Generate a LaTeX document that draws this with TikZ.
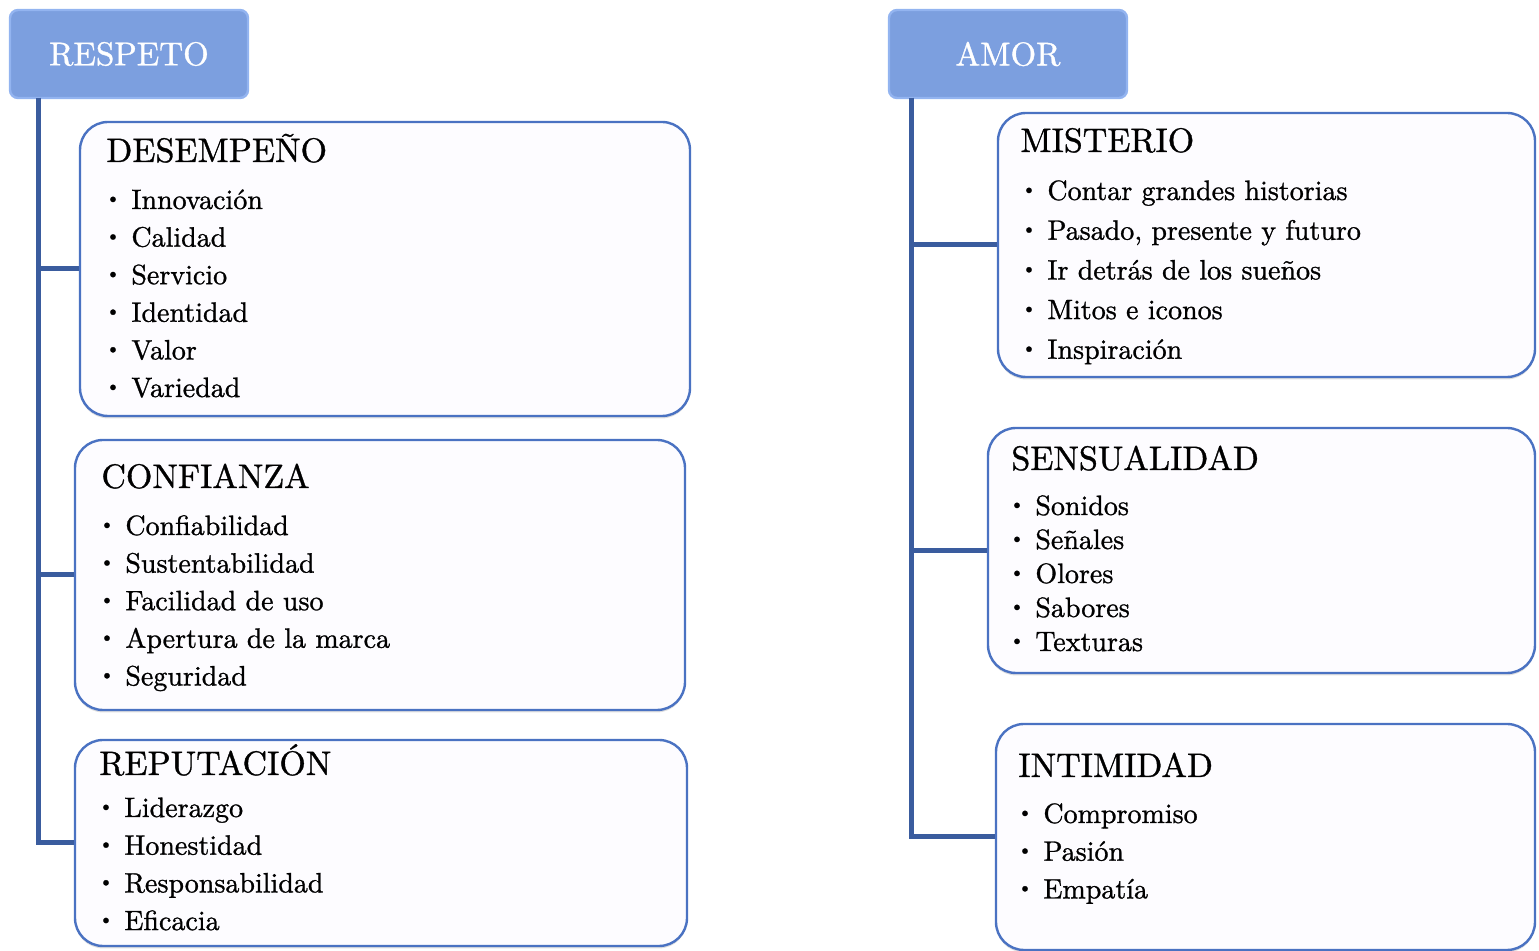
\documentclass[tikz,border=0pt]{standalone}
\usepackage{fontspec}
\setmainfont{lmroman10-regular.otf}[FakeBold=1]
\usetikzlibrary{shadows}

\definecolor{trunkblue}{HTML}{3A5C9E}
\definecolor{cardline}{HTML}{4A72C2}
\definecolor{headfill}{HTML}{7C9FDF}
\definecolor{headline}{HTML}{93B4F0}
\definecolor{cardfill}{HTML}{FDFCFF}

\tikzset{
  header/.style={rectangle, rounded corners=4pt, fill=headfill, draw=headline,
    line width=1.2pt, text=white, font=\fontsize{16.5}{20}\selectfont,
    minimum width=119pt, minimum height=44pt},
  card/.style={rectangle, rounded corners=14pt, fill=cardfill, draw=cardline,
    line width=1.2pt,
    drop shadow={shadow xshift=0pt, shadow yshift=-1.2pt, opacity=.25}},
  cardtitle/.style={anchor=base west, inner sep=0pt, font=\fontsize{17}{20}\selectfont},
  carditem/.style={anchor=base west, inner sep=0pt, font=\fontsize{14}{17}\selectfont},
  trunk/.style={draw=trunkblue, line width=2.5pt},
}
\newcommand{\dotitem}[1]{\llap{\raisebox{2.6pt}{\fontsize{9.5}{9}\selectfont\textbullet}\hspace{5.5pt}}#1}

\begin{document}
\begin{tikzpicture}[x=0.5pt, y=-0.5pt]
  \useasboundingbox (0,0) rectangle (1539,951);

  % headers
  \node[header] (respeto) at (129,54) {RESPETO};
  \node[header] (amor)    at (1008,54) {AMOR};

  % cards, left column
  \node[card, minimum width=305pt, minimum height=147pt] (desempeno)  at (385,269) {};
  \node[card, minimum width=305pt, minimum height=135pt] (confianza)  at (380,575) {};
  \node[card, minimum width=306pt, minimum height=103pt] (reputacion) at (381,843) {};

  % cards, right column
  \node[card, minimum width=268.5pt, minimum height=132pt]   (misterio)    at (1266.5,245) {};
  \node[card, minimum width=273.5pt, minimum height=122.5pt] (sensualidad) at (1261.5,550.5) {};
  \node[card, minimum width=269.5pt, minimum height=113pt]   (intimidad)   at (1265.5,837) {};

  % trunks
  \coordinate (lroot) at (38,98);
  \coordinate (rroot) at (911,98);
  \draw[trunk] (lroot) |- (desempeno.west);
  \draw[trunk] (lroot) |- (confianza.west);
  \draw[trunk] (lroot) |- (reputacion.west);
  \draw[trunk] (rroot) |- (misterio.west);
  \draw[trunk] (rroot) |- (sensualidad.west);
  \draw[trunk] (rroot) |- (intimidad.west);

  % titles
  \node[cardtitle] (t-des) at (106,162)  {DESEMPEÑO};
  \node[cardtitle] (t-con) at (101,488)  {CONFIANZA};
  \node[cardtitle] (t-rep) at (99,775)   {REPUTACIÓN};
  \node[cardtitle] (t-mis) at (1020,152) {MISTERIO};
  \node[cardtitle] (t-sen) at (1011,470) {SENSUALIDAD};
  \node[cardtitle] (t-int) at (1018,777) {INTIMIDAD};

  % items
  \foreach \t [count=\i] in {Innovación, Calidad, Servicio, Identidad, Valor, Variedad}
    \node[carditem] (des-\i) at (131, {209+37.6*(\i-1)}) {\dotitem{\t}};
  \foreach \t [count=\i] in {Confiabilidad, Sustentabilidad, Facilidad de uso, Apertura de la marca, Seguridad}
    \node[carditem] (con-\i) at (125, {535+37.6*(\i-1)}) {\dotitem{\t}};
  \foreach \t [count=\i] in {Liderazgo, Honestidad, Responsabilidad, Eficacia}
    \node[carditem] (rep-\i) at (124, {817+37.7*(\i-1)}) {\dotitem{\t}};
  \foreach \t [count=\i] in {Contar grandes historias, {Pasado, presente y futuro}, Ir detrás de los sueños, Mitos e iconos, Inspiración}
    \node[carditem] (mis-\i) at (1047, {200+39.7*(\i-1)}) {\dotitem{\t}};
  \foreach \t [count=\i] in {Sonidos, Señales, Olores, Sabores, Texturas}
    \node[carditem] (sen-\i) at (1035, {515+34*(\i-1)}) {\dotitem{\t}};
  \foreach \t [count=\i] in {Compromiso, Pasión, Empatía}
    \node[carditem] (int-\i) at (1043, {823+37.7*(\i-1)}) {\dotitem{\t}};

\end{tikzpicture}
\end{document}
